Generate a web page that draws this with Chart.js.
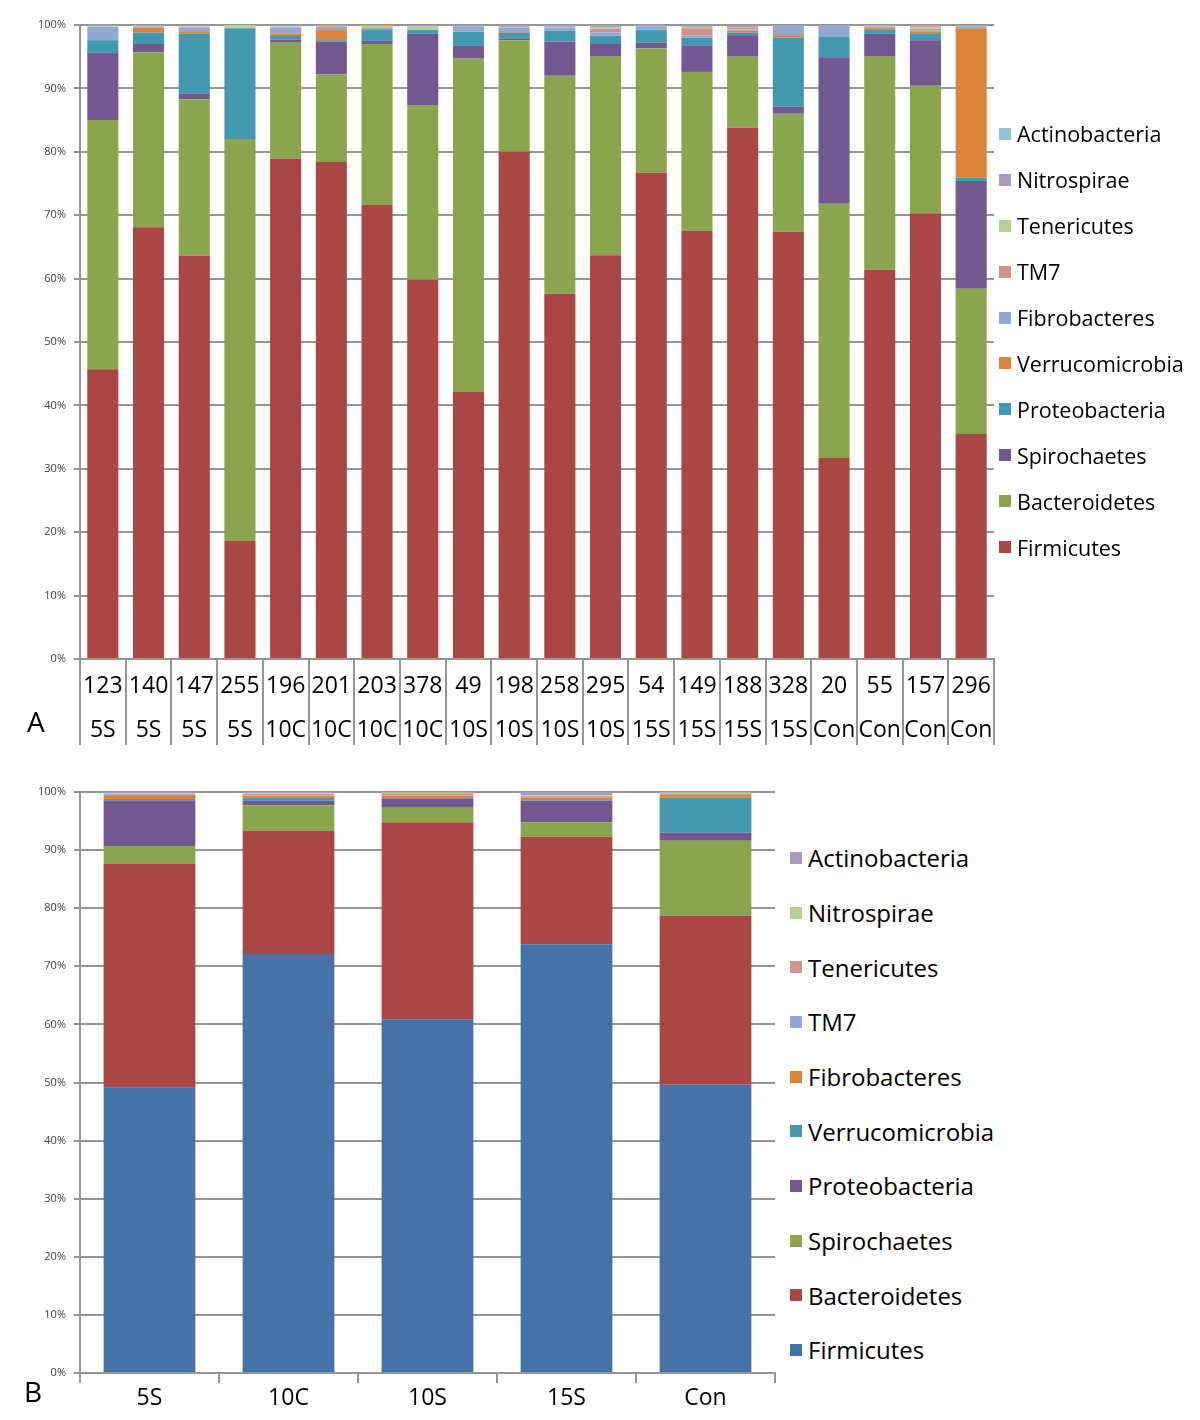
<!DOCTYPE html>
<html>
<head>
<meta charset="utf-8">
<script src="https://cdn.jsdelivr.net/npm/chart.js@4/dist/chart.umd.min.js"></script>
<style>
  html, body { margin: 0; padding: 0; background: #fff; }
  body { width: 1200px; height: 1420px; position: relative; overflow: hidden; font-family: "Open Sans", sans-serif; }
  .box { position: absolute; }
  .panel { position: absolute; font-family: "Open Sans", sans-serif; color: #000; font-size: 28px; }
  .legend { position: absolute; display: flex; flex-direction: column; }
  .legend .row { display: flex; align-items: center; color: #000; white-space: nowrap; }
  .legend .sw { width: 12px; height: 12px; flex: none; }
</style>
</head>
<body>
<div class="box" style="left:0;top:0;width:1000px;height:760px;"><canvas id="chartA" width="1000" height="760"></canvas></div>
<div class="box" style="left:0;top:770px;width:790px;height:650px;"><canvas id="chartB" width="790" height="650"></canvas></div>
<div class="panel" style="left:27px;top:702px;">A</div>
<div class="panel" style="left:24px;top:1372px;">B</div>
<div class="legend" id="legendA"></div>
<div class="legend" id="legendB"></div>
<script>
// ---------- Data: panel A ----------
const sampleIds = ["123","140","147","255","196","201","203","378","49","198","258","295","54","149","188","328","20","55","157","296"];
const sampleGroups = ["5S","5S","5S","5S","10C","10C","10C","10C","10S","10S","10S","10S","15S","15S","15S","15S","Con","Con","Con","Con"];
const phyla = ["Firmicutes","Bacteroidetes","Spirochaetes","Proteobacteria","Verrucomicrobia","Fibrobacteres","TM7","Tenericutes","Nitrospirae","Actinobacteria"];

const aFirmicutes      = [45.7,68.1,63.6,18.6,78.9,78.4,71.6,59.8,42.1,80.0,57.6,63.7,76.7,67.5,83.8,67.4,31.7,61.4,70.3,35.5];
const aBacteroidetes   = [39.3,27.6,24.7,63.4,18.3,13.8,25.4,27.6,52.6,17.6,34.4,31.3,19.6,25.1,11.2,18.6,40.1,33.6,20.1,22.9];
const aSpirochaetes    = [10.6,1.3,0.9,0.0,0.5,5.2,0.5,11.2,2.0,0.3,5.4,2.0,0.9,4.2,3.4,1.1,23.1,3.6,7.2,17.0];
const aProteobacteria  = [2.0,1.8,9.4,17.5,0.7,0.2,1.7,0.6,2.2,0.9,1.7,1.3,2.0,1.2,0.4,10.9,3.3,0.6,1.1,0.5];
const aVerrucomicrobia = [0.0,0.8,0.3,0.0,0.2,1.6,0.2,0.0,0.1,0.1,0.0,0.0,0.1,0.0,0.3,0.4,0.0,0.3,0.3,23.6];
const aFibrobacteres   = [2.1,0.2,0.7,0.1,1.0,0.5,0.2,0.1,0.8,0.7,0.5,0.5,0.5,0.3,0.2,1.3,1.5,0.2,0.1,0.3];
const aTM7             = [0.0,0.0,0.1,0.0,0.1,0.1,0.1,0.0,0.0,0.0,0.0,0.6,0.0,1.2,0.3,0.0,0.0,0.0,0.3,0.0];
const aTenericutes     = [0.1,0.1,0.1,0.4,0.1,0.1,0.2,0.5,0.0,0.1,0.1,0.3,0.0,0.2,0.0,0.0,0.0,0.2,0.3,0.0];
const aNitrospirae     = [0.1,0.1,0.2,0.0,0.2,0.1,0.1,0.2,0.2,0.2,0.2,0.2,0.2,0.2,0.3,0.2,0.2,0.1,0.2,0.1];
const aActinobacteria  = [0.1,0.0,0.0,0.0,0.0,0.0,0.0,0.0,0.0,0.1,0.1,0.1,0.0,0.1,0.1,0.1,0.1,0.0,0.1,0.1];

// ---------- Data: panel B ----------
const groups = ["5S","10C","10S","15S","Con"];
const bFirmicutes      = [49.1,72.1,60.9,73.8,49.6];
const bBacteroidetes   = [38.5,21.2,33.9,18.5,29.1];
const bSpirochaetes    = [3.1,4.4,2.5,2.5,12.9];
const bProteobacteria  = [7.8,0.8,1.6,3.7,1.4];
const bVerrucomicrobia = [0.3,0.6,0.2,0.1,6.0];
const bFibrobacteres   = [0.7,0.2,0.3,0.5,0.6];
const bTM7             = [0.1,0.1,0.1,0.1,0.1];
const bTenericutes     = [0.1,0.3,0.3,0.1,0.1];
const bNitrospirae     = [0.1,0.1,0.1,0.1,0.1];
const bActinobacteria  = [0.2,0.2,0.1,0.6,0.1];

const yTicks = [0,10,20,30,40,50,60,70,80,90,100];

// ---------- Styles ----------
const colorsA = ["#AA4643","#89A54E","#71588F","#4198AF","#DB843D","#93A9CF","#D19392","#B9CD96","#A99BBD","#92C3D4"];
const colorsB = ["#4572A7","#AA4643","#89A54E","#71588F","#4198AF","#DB843D","#93A9CF","#D19392","#B9CD96","#A99BBD"];
const seriesA = [aFirmicutes,aBacteroidetes,aSpirochaetes,aProteobacteria,aVerrucomicrobia,aFibrobacteres,aTM7,aTenericutes,aNitrospirae,aActinobacteria];
const seriesB = [bFirmicutes,bBacteroidetes,bSpirochaetes,bProteobacteria,bVerrucomicrobia,bFibrobacteres,bTM7,bTenericutes,bNitrospirae,bActinobacteria];

const GRID = "#959595";
const FONT = '"Open Sans", sans-serif';

function makeChart(id, labels, series, colors, opt) {
  return new Chart(document.getElementById(id), {
    type: 'bar',
    data: {
      labels: labels,
      datasets: series.map((d, i) => ({
        label: phyla[i],
        data: d,
        backgroundColor: colors[i],
        borderWidth: 0,
        barPercentage: opt.barPct,
        categoryPercentage: 1.0
      }))
    },
    options: {
      responsive: false,
      animation: false,
      layout: { padding: { top: opt.padTop, right: opt.padRight, left: 0, bottom: 0 } },
      plugins: { legend: { display: false }, tooltip: { enabled: false } },
      scales: {
        x: {
          stacked: true,
          offset: true,
          grid: { display: true, offset: true, drawOnChartArea: false, drawTicks: true,
                  tickLength: opt.xTickLen, color: GRID, lineWidth: 2 },
          border: { display: true, color: GRID, width: 2 },
          ticks: { color: '#000', autoSkip: false, maxRotation: 0, minRotation: 0, padding: opt.xPad,
                   font: { family: FONT, size: 23, lineHeight: opt.xLineH } },
          afterFit: (s) => { s.height = opt.xHeight; }
        },
        y: {
          stacked: true,
          min: 0, max: 100,
          afterBuildTicks: (s) => { s.ticks = yTicks.map(v => ({ value: v })); },
          grid: { color: GRID, lineWidth: 2, tickLength: 6, drawTicks: true },
          border: { display: true, color: GRID, width: 2 },
          ticks: { color: '#404040', padding: 8, font: { family: FONT, size: 11 },
                   callback: (v) => v + '%' },
          afterFit: (s) => { s.width = 80; }
        }
      }
    }
  });
}

makeChart('chartA', sampleIds.map((id, i) => [id, sampleGroups[i]]), seriesA, colorsA,
  { barPct: 0.68, padTop: 25, padRight: 6, xTickLen: 86, xPad: -81, xLineH: 44/23, xHeight: 101 });
makeChart('chartB', groups, seriesB, colorsB,
  { barPct: 0.66, padTop: 22, padRight: 15, xTickLen: 10, xPad: 2, xLineH: 1.2, xHeight: 47 });

function buildLegend(id, colors, left, firstCenter, step, fontSize, gap) {
  const el = document.getElementById(id);
  el.style.left = left + 'px';
  el.style.top = (firstCenter - step / 2) + 'px';
  for (let i = phyla.length - 1; i >= 0; i--) {
    const row = document.createElement('div');
    row.className = 'row';
    row.style.height = step + 'px';
    row.style.fontSize = fontSize + 'px';
    const sw = document.createElement('span');
    sw.className = 'sw';
    sw.style.background = colors[i];
    sw.style.marginRight = gap + 'px';
    const tx = document.createElement('span');
    tx.textContent = phyla[i];
    row.appendChild(sw);
    row.appendChild(tx);
    el.appendChild(row);
  }
}
buildLegend('legendA', colorsA, 999, 134, 45.9, 21.5, 6);
buildLegend('legendB', colorsB, 790, 858, 54.67, 24, 6);
</script>
</body>
</html>
